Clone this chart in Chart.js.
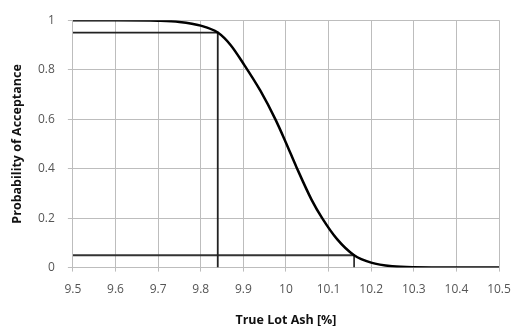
<!DOCTYPE html>
<html>
<head>
<meta charset="utf-8">
<script src="https://cdn.jsdelivr.net/npm/chart.js@4"></script>
<style>
  html, body { margin: 0; padding: 0; background: #fff; }
  #wrap { width: 511px; height: 326px; }
</style>
</head>
<body>
<div id="wrap"><canvas id="oc"></canvas></div>
<script>
// OC curve
const ashX = [9.5, 9.6, 9.7, 9.75, 9.8, 9.84, 9.87, 9.9, 9.94, 9.975, 10.0, 10.025, 10.06, 10.085, 10.12, 10.16, 10.2, 10.25, 10.3, 10.4, 10.5];
const probY = [1, 1, 0.998, 0.993, 0.978, 0.95, 0.9, 0.825, 0.715, 0.6, 0.505, 0.405, 0.275, 0.2, 0.115, 0.05, 0.02, 0.005, 0.001, 0, 0];

// producer / consumer risk guide lines
const upperLine = [[9.5, 0.95], [9.84, 0.95], [9.84, 0]];
const lowerLine = [[9.5, 0.05], [10.16, 0.05], [10.16, 0]];

const xTicks = [9.5, 9.6, 9.7, 9.8, 9.9, 10, 10.1, 10.2, 10.3, 10.4, 10.5];

const toPts = arr => arr.map(p => ({ x: p[0], y: p[1] }));

new Chart(document.getElementById('oc'), {
    type: 'line',
    data: {
        datasets: [
            {
                data: ashX.map((x, i) => ({ x: x, y: probY[i] })),
                borderColor: '#000',
                borderWidth: 2.5,
                pointRadius: 0,
                cubicInterpolationMode: 'monotone'
            },
            {
                data: toPts(upperLine),
                borderColor: '#222',
                borderWidth: 1.8,
                pointRadius: 0,
                tension: 0
            },
            {
                data: toPts(lowerLine),
                borderColor: '#333',
                borderWidth: 1.8,
                pointRadius: 0,
                tension: 0
            }
        ]
    },
    options: {
        responsive: true,
        maintainAspectRatio: false,
        animation: false,
        layout: { padding: { left: 6, right: 12, top: 12, bottom: -2 } },
        plugins: { legend: { display: false }, tooltip: { enabled: false } },
        scales: {
            x: {
                type: 'linear',
                min: 9.5,
                max: 10.5,
                afterBuildTicks: axis => { axis.ticks = xTicks.map(v => ({ value: v })); },
                afterFit: axis => { axis.paddingRight = 0; axis.paddingLeft = 0; },
                grid: { color: '#bdbdbd', lineWidth: 1, tickLength: 4 },
                border: { color: '#bdbdbd' },
                ticks: {
                    color: '#555',
                    font: { family: 'Open Sans', size: 12 },
                    padding: 11,
                    maxRotation: 0,
                    callback: v => String(Math.round(v * 10) / 10)
                },
                title: {
                    display: true,
                    text: 'True Lot Ash [%]',
                    color: '#111',
                    font: { family: 'Open Sans', size: 12.5, weight: 'bold' },
                    padding: { top: 5, bottom: 0 }
                }
            },
            y: {
                min: 0,
                max: 1,
                grid: { color: '#bdbdbd', lineWidth: 1, tickLength: 5 },
                border: { color: '#bdbdbd' },
                ticks: {
                    stepSize: 0.2,
                    color: '#555',
                    font: { family: 'Open Sans', size: 12 },
                    padding: 13,
                    callback: v => String(Math.round(v * 10) / 10)
                },
                title: {
                    display: true,
                    text: 'Probability of Acceptance',
                    color: '#111',
                    font: { family: 'Open Sans', size: 12.5, weight: 'bold' },
                    padding: { top: 4, bottom: 0 }
                }
            }
        }
    }
});
</script>
</body>
</html>
